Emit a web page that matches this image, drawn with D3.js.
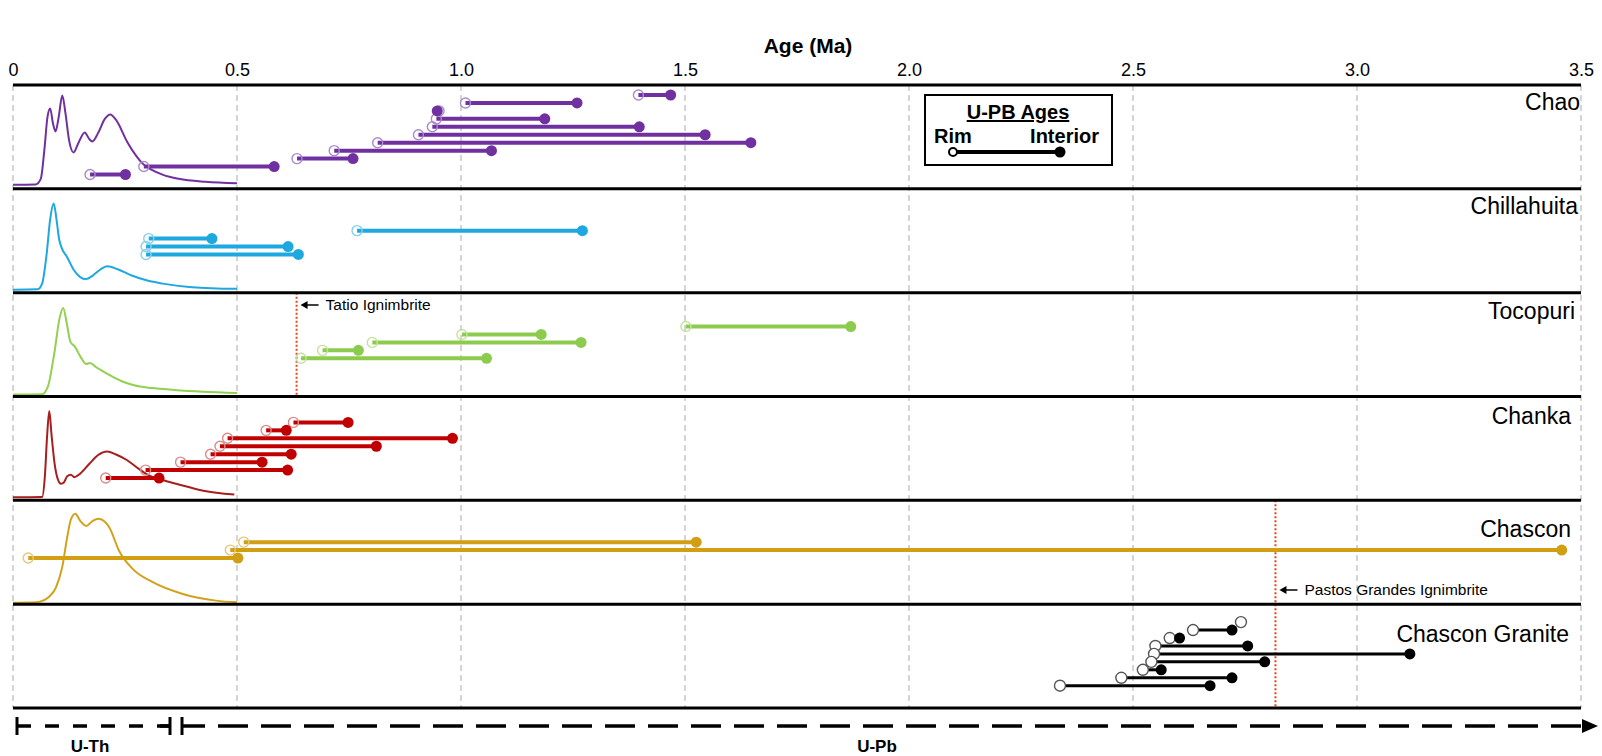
<!DOCTYPE html>
<html>
<head>
<meta charset="utf-8">
<script src="https://cdn.jsdelivr.net/npm/d3@7"></script>
<style>
  body { margin: 0; background: #fff; }
  svg { display: block; font-family: "Liberation Sans", Arial, sans-serif; }
</style>
</head>
<body>
<div class="container"></div>
<script>
// samples, top to bottom
const samples = ["Chao", "Chillahuita", "Tocopuri", "Chanka", "Chascon", "Chascon Granite"]
const tickValues = [0, 0.5, 1.0, 1.5, 2.0, 2.5, 3.0, 3.5]
const tickLabels = ["0", "0.5", "1.0", "1.5", "2.0", "2.5", "3.0", "3.5"]

// U-Pb ages per grain: [rim, interior] (Ma)
const chaoGrains = [[1.396, 1.468], [1.010, 1.259], [0.951, 0.947], [0.945, 1.187], [0.936, 1.398],
  [0.905, 1.545], [0.814, 1.647], [0.717, 1.068], [0.634, 0.759], [0.292, 0.583], [0.172, 0.251]]
const chillahuitaGrains = [[0.768, 1.271], [0.303, 0.444], [0.297, 0.614], [0.297, 0.637]]
const tocopuriGrains = [[1.502, 1.870], [1.002, 1.179], [0.802, 1.268], [0.691, 0.771], [0.643, 1.057]]
const chankaGrains = [[0.626, 0.748], [0.565, 0.610], [0.479, 0.981], [0.462, 0.811], [0.441, 0.621],
  [0.374, 0.556], [0.296, 0.613], [0.207, 0.326]]
const chasconGrains = [[0.515, 1.525], [0.485, 3.457], [0.034, 0.502]]
const graniteGrains = [[2.741, null], [2.634, 2.721], [2.582, 2.604], [2.550, 2.756], [2.547, 3.118],
  [2.541, 2.794], [2.522, 2.563], [2.474, 2.721], [2.337, 2.672]]

// U-Th age density curves: [age, relative density]
const chaoKde = [[0, 0], [0.05, 0.003], [0.062, 0.06], [0.07, 0.35], [0.077, 0.68], [0.083, 0.765], [0.089, 0.62],
  [0.095, 0.535], [0.102, 0.68], [0.11, 0.895], [0.117, 0.72], [0.125, 0.45], [0.135, 0.325], [0.147, 0.43],
  [0.16, 0.525], [0.17, 0.46], [0.177, 0.435], [0.19, 0.52], [0.205, 0.66], [0.217, 0.705], [0.23, 0.65],
  [0.255, 0.43], [0.275, 0.29], [0.29, 0.21], [0.31, 0.15], [0.335, 0.1], [0.37, 0.06], [0.43, 0.03], [0.5, 0.015]]
const chillahuitaKde = [[0, 0], [0.055, 0.004], [0.065, 0.06], [0.075, 0.35], [0.083, 0.7], [0.091, 0.855],
  [0.097, 0.7], [0.103, 0.5], [0.11, 0.4], [0.12, 0.33], [0.135, 0.2], [0.15, 0.125], [0.163, 0.105],
  [0.178, 0.14], [0.195, 0.2], [0.21, 0.232], [0.235, 0.2], [0.265, 0.14], [0.3, 0.09], [0.334, 0.06],
  [0.4, 0.025], [0.5, 0.008]]
const tocopuriKde = [[0, 0], [0.065, 0.003], [0.078, 0.08], [0.092, 0.4], [0.104, 0.75], [0.112, 0.85],
  [0.12, 0.7], [0.128, 0.52], [0.138, 0.47], [0.152, 0.36], [0.163, 0.3], [0.172, 0.31], [0.185, 0.27],
  [0.2, 0.23], [0.22, 0.18], [0.243, 0.13], [0.27, 0.09], [0.31, 0.063], [0.36, 0.045], [0.425, 0.028], [0.5, 0.015]]
const chankaKde = [[0, 0], [0.065, 0.003], [0.071, 0.2], [0.076, 0.6], [0.081, 0.857], [0.086, 0.62],
  [0.093, 0.33], [0.1, 0.18], [0.107, 0.135], [0.114, 0.15], [0.121, 0.21], [0.129, 0.225], [0.137, 0.2],
  [0.15, 0.235], [0.17, 0.33], [0.19, 0.42], [0.21, 0.455], [0.23, 0.425], [0.254, 0.37], [0.28, 0.285],
  [0.3, 0.225], [0.335, 0.17], [0.368, 0.13], [0.425, 0.065], [0.494, 0.027]]
const chasconKde = [[0, 0], [0.045, 0.002], [0.06, 0.01], [0.08, 0.055], [0.096, 0.15], [0.11, 0.35],
  [0.121, 0.64], [0.129, 0.81], [0.139, 0.87], [0.15, 0.8], [0.164, 0.75], [0.178, 0.8], [0.191, 0.82],
  [0.205, 0.79], [0.215, 0.735], [0.237, 0.505], [0.267, 0.33], [0.312, 0.2], [0.379, 0.085],
  [0.453, 0.02], [0.5, 0.003]]

// marker ignimbrites: [label, age, first panel, last panel]
const ignimbrites = [["Tatio Ignimbrite", 0.633, "Tocopuri", "Tocopuri"],
  ["Pastos Grandes Ignimbrite", 2.818, "Chascon", "Chascon Granite"]]

const grainSets = [chaoGrains, chillahuitaGrains, tocopuriGrains, chankaGrains, chasconGrains, graniteGrains]
const kdeSets = [chaoKde, chillahuitaKde, tocopuriKde, chankaKde, chasconKde, null]

// styles
const colors = ["#7030A0", "#1DA8E0", "#8DCB4E", "#C00000", "#D19E14", "#000000"]
const kdeColors = ["#7030A0", "#1DA8E0", "#92D050", "#A81E1E", "#D1A21C", "#000000"]
const rimColors = ["#A98BC9", "#86CFEE", "#C2E3A0", "#D88C8C", "#E3C779", "#555555"]
const firstRow = [0, 4, 3, 2, 4, 1]
const labelY = [110, 214, 319, 424, 537, 642]
const labelX = [1580, 1578, 1575, 1571, 1571, 1569]
const baseOffset = [4, 3, 2, 3, 1.5, 0]

const w = 1602
const h = 756

const svg = d3.select(".container").append("svg")
  .attr("width", w)
  .attr("height", h)

const xScale = d3.scaleLinear().domain([0, 3.5]).range([13, 1581])
const panelScale = d3.scaleBand().domain(samples).range([85, 708])
const rowScale = d3.scaleLinear().domain([0, 10]).range([10, 89.5])

// title
svg.append("text")
  .attr("x", 808).attr("y", 53)
  .attr("text-anchor", "middle")
  .style("font-size", "21px").style("font-weight", "bold")
  .text("Age (Ma)")

// top axis
const xAxis = d3.axisTop(xScale).tickValues(tickValues)
  .tickFormat((d, i) => tickLabels[i]).tickSize(0).tickPadding(3)
const axisG = svg.append("g").attr("transform", "translate(0,79)").call(xAxis)
axisG.select(".domain").remove()
axisG.selectAll("text").style("font-size", "18px").style("font-family", "Liberation Sans, Arial, sans-serif")

// grid
svg.append("g").selectAll("line")
  .data(tickValues).enter().append("line")
  .attr("x1", (d) => xScale(d)).attr("x2", (d) => xScale(d))
  .attr("y1", 85).attr("y2", 708)
  .attr("stroke", "#aaa").attr("stroke-width", 1).attr("stroke-dasharray", "6,4")

// density curves
samples.forEach((s, i) => {
  if (!kdeSets[i]) return
  const top = panelScale(s)
  const yK = d3.scaleLinear().domain([0, 1]).range([top + panelScale.bandwidth() - baseOffset[i], top])
  const line = d3.line().x((d) => xScale(d[0])).y((d) => yK(d[1])).curve(d3.curveMonotoneX)
  svg.append("path")
    .datum(kdeSets[i])
    .attr("d", line)
    .attr("fill", "none")
    .attr("stroke", kdeColors[i])
    .attr("stroke-width", 2)
})

// ignimbrite markers
ignimbrites.forEach((d) => {
  const xi = xScale(d[1])
  const y1 = panelScale(d[2])
  const y2 = panelScale(d[3]) + panelScale.bandwidth()
  svg.append("line")
    .attr("x1", xi).attr("x2", xi).attr("y1", y1).attr("y2", y2)
    .attr("stroke", "#E8431A").attr("stroke-width", 2).attr("stroke-dasharray", "2,2")
})
const ignLabelY = [305, 590]
ignimbrites.forEach((d, k) => {
  const xi = xScale(d[1])
  svg.append("line")
    .attr("x1", xi + 22).attr("x2", xi + 9)
    .attr("y1", ignLabelY[k]).attr("y2", ignLabelY[k])
    .attr("stroke", "#000").attr("stroke-width", 1.5)
  svg.append("path")
    .attr("d", `M${xi + 4},${ignLabelY[k]} l7,-4 l0,8 z`)
    .attr("fill", "#000")
  svg.append("text")
    .attr("x", xi + 29).attr("y", ignLabelY[k] + 5)
    .style("font-size", "15.5px")
    .text(d[0])
})

// grains
samples.forEach((s, i) => {
  const top = panelScale(s)
  const g = svg.append("g")
  const rows = grainSets[i].map((d, j) => ({ rim: d[0], core: d[1], y: top + rowScale(firstRow[i] + j) }))
  const isGranite = i === 5
  g.selectAll("line.seg")
    .data(rows.filter((d) => d.core !== null)).enter().append("line")
    .attr("class", "seg")
    .attr("x1", (d) => xScale(d.rim)).attr("x2", (d) => xScale(d.core))
    .attr("y1", (d) => d.y).attr("y2", (d) => d.y)
    .attr("stroke", colors[i]).attr("stroke-width", isGranite ? 3 : 4)
  g.selectAll("circle.rim")
    .data(rows).enter().append("circle")
    .attr("class", "rim")
    .attr("cx", (d) => xScale(d.rim)).attr("cy", (d) => d.y)
    .attr("r", isGranite ? 5.5 : 5)
    .attr("fill", isGranite ? "#fff" : "none")
    .attr("stroke", rimColors[i]).attr("stroke-width", 1.4)
  g.selectAll("circle.core")
    .data(rows.filter((d) => d.core !== null)).enter().append("circle")
    .attr("class", "core")
    .attr("cx", (d) => xScale(d.core)).attr("cy", (d) => d.y)
    .attr("r", 5.5)
    .attr("fill", colors[i])
})

// panel separators
svg.append("g").selectAll("line")
  .data(samples.map((s) => panelScale(s)).concat([708])).enter().append("line")
  .attr("x1", xScale(0)).attr("x2", xScale(3.5))
  .attr("y1", (d) => d).attr("y2", (d) => d)
  .attr("stroke", "#000").attr("stroke-width", 3)

// sample labels
svg.append("g").selectAll("text")
  .data(samples).enter().append("text")
  .attr("x", (d, i) => labelX[i]).attr("y", (d, i) => labelY[i])
  .attr("text-anchor", "end")
  .style("font-size", "23px")
  .text((d) => d)

// legend box
const legend = svg.append("g")
legend.append("rect")
  .attr("x", 925).attr("y", 95).attr("width", 187).attr("height", 70)
  .attr("fill", "#fff").attr("stroke", "#000").attr("stroke-width", 2)
legend.append("text")
  .attr("x", 1018).attr("y", 119).attr("text-anchor", "middle")
  .style("font-size", "20px").style("font-weight", "bold")
  .style("text-decoration", "underline")
  .text("U-PB Ages")
legend.append("text")
  .attr("x", 934).attr("y", 143)
  .style("font-size", "20px").style("font-weight", "bold")
  .text("Rim")
legend.append("text")
  .attr("x", 1099).attr("y", 143).attr("text-anchor", "end")
  .style("font-size", "20px").style("font-weight", "bold")
  .text("Interior")
legend.append("line")
  .attr("x1", 953).attr("x2", 1060).attr("y1", 152).attr("y2", 152)
  .attr("stroke", "#000").attr("stroke-width", 4)
legend.append("circle")
  .attr("cx", 953).attr("cy", 152).attr("r", 4)
  .attr("fill", "#fff").attr("stroke", "#000").attr("stroke-width", 2)
legend.append("circle")
  .attr("cx", 1060).attr("cy", 152).attr("r", 5.5)
  .attr("fill", "#000")

// method arrow along bottom
const arrowY = 726
const bottom = svg.append("g")
bottom.append("line")
  .attr("x1", 17).attr("x2", 170).attr("y1", arrowY).attr("y2", arrowY)
  .attr("stroke", "#000").attr("stroke-width", 3.5).attr("stroke-dasharray", "14,14")
bottom.append("line")
  .attr("x1", 182).attr("x2", 1582).attr("y1", arrowY).attr("y2", arrowY)
  .attr("stroke", "#000").attr("stroke-width", 3.5).attr("stroke-dasharray", "30,13")
  .attr("stroke-dashoffset", 7)
bottom.selectAll("line.bar")
  .data([17, 170, 182]).enter().append("line")
  .attr("class", "bar")
  .attr("x1", (d) => d).attr("x2", (d) => d)
  .attr("y1", arrowY - 9).attr("y2", arrowY + 9)
  .attr("stroke", "#000").attr("stroke-width", 3)
bottom.append("line")
  .attr("x1", 160).attr("x2", 170).attr("y1", arrowY).attr("y2", arrowY)
  .attr("stroke", "#000").attr("stroke-width", 3.5)
bottom.append("path")
  .attr("d", `M1582,${arrowY - 7} L1598,${arrowY} L1582,${arrowY + 7} Z`)
  .attr("fill", "#000")
bottom.append("text")
  .attr("x", 90).attr("y", 752).attr("text-anchor", "middle")
  .style("font-size", "17px").style("font-weight", "bold")
  .text("U-Th")
bottom.append("text")
  .attr("x", 877).attr("y", 752).attr("text-anchor", "middle")
  .style("font-size", "17px").style("font-weight", "bold")
  .text("U-Pb")
</script>
</body>
</html>
